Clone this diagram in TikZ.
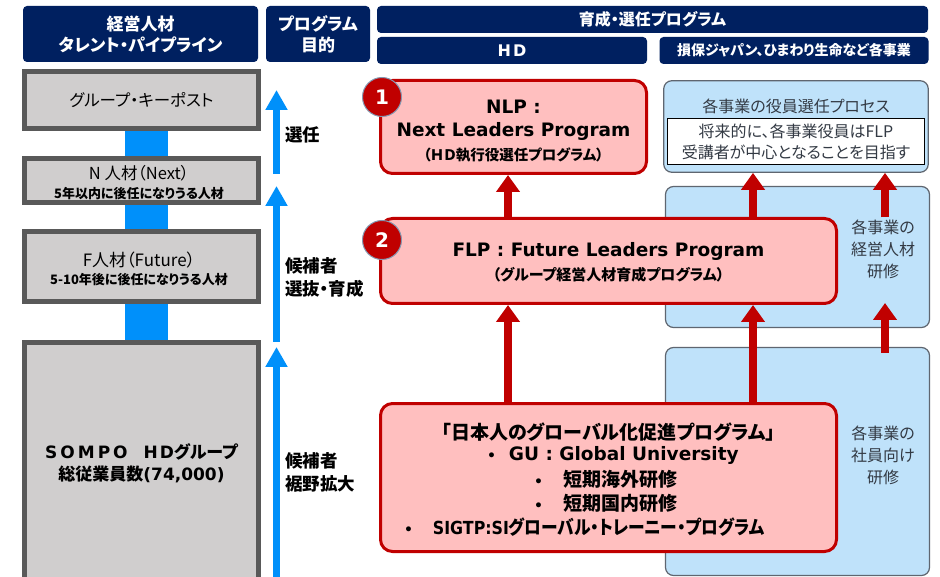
\documentclass[tikz,border=0pt]{standalone}
\usepackage{fontspec}
\setmainfont{Noto Sans CJK JP}[RawFeature=+palt]
\newfontfamily\lt{DejaVu Sans}
\usetikzlibrary{arrows.meta,calc}
\pgfdeclarelayer{bgw}
\pgfdeclarelayer{bgc}
\pgfsetlayers{bgw,bgc,main}
\definecolor{navy}{HTML}{002060}
\definecolor{greyfill}{HTML}{D0CECE}
\definecolor{greyline}{HTML}{595959}
\definecolor{bluec}{HTML}{0090FA}
\definecolor{redfill}{HTML}{FFBFBF}
\definecolor{redline}{HTML}{C00000}
\definecolor{lblue}{HTML}{BFE2FA}
\definecolor{lbline}{HTML}{5F6670}
\definecolor{circline}{HTML}{8497B0}
\definecolor{txtgrey}{HTML}{333A44}
\newcommand\fsz[2]{\fontsize{#1}{#2}\selectfont}
\begin{document}
\begin{tikzpicture}[x=1pt,y=-1pt,
 hdr/.style={fill=navy, rounded corners=4pt, text=white, inner sep=0pt, align=center},
 greybox/.style={draw=greyline, line width=5pt, fill=greyfill, inner sep=0pt, align=center},
 redbox/.style={draw=redline, line width=3pt, fill=redfill, rounded corners=12pt, inner sep=0pt},
 bluebox/.style={draw=lbline, line width=1.2pt, fill=lblue, rounded corners=8pt, inner sep=0pt},
 btext/.style={text=txtgrey, font=\fsz{16}{22}, align=center, inner sep=2pt},
 rtext/.style={font=\bfseries\fsz{19}{23.5}, inner sep=0pt, align=center},
 lbl/.style={font=\bfseries\fsz{17.5}{23}, align=left, anchor=west, inner sep=0pt},
 gtext/.style={align=center, inner sep=0pt},
 barrow/.style={draw=bluec, line width=7pt, -{Triangle[width=21pt,length=20pt]}},
 rarrow/.style={draw=redline, line width=8pt, -{Triangle[width=23pt,length=17pt]}},
 circ/.style={circle, fill=redline, draw=circline, line width=1pt, minimum size=39pt, inner sep=0pt, text=white, font=\lt\bfseries\fsz{20}{20}},
]
\useasboundingbox (0,0) rectangle (940,577);
\begin{pgfonlayer}{bgw}
\fill[white] (0,0) rectangle (940,577);
\end{pgfonlayer}

% headers
\node[hdr, minimum width=235pt, minimum height=56pt, font=\bfseries\fsz{17}{21}] (hA) at (140.5,34) {経営人材\\タレント・パイプライン};
\node[hdr, minimum width=104pt, minimum height=56pt, font=\bfseries\fsz{17}{21}] (hB) at (318,34) {プログラム\\目的};
\node[hdr, minimum width=551pt, minimum height=27pt, font=\bfseries\fsz{16}{20}] (hC) at (652.5,19.5) {育成・選任プログラム};
\node[hdr, minimum width=270pt, minimum height=27pt, font=\bfseries\fsz{16}{20}] (hD) at (512,50.5) {{\lt H\hspace{2pt}D}};
\node[hdr, minimum width=269pt, minimum height=27pt, font=\bfseries\fsz{14}{18}] (hE) at (794,50.5) {損保ジャパン、ひまわり生命など各事業};

% pipeline boxes
\node[greybox, minimum width=234pt, minimum height=57pt, font=\fsz{16.5}{20}] (kp) at (141.5,100) {グループ・キーポスト};
\node[greybox, minimum width=234pt, minimum height=44pt] (nn) at (141.5,180.5) {};
\node[gtext, font=\fsz{16.5}{19}] (nntxt) at (139,183) {N 人材（Next）\\{\bfseries\fsz{13}{19}5年以内に後任になりうる人材}};
\node[greybox, minimum width=234pt, minimum height=70pt] (ff) at (141.5,266.5) {};
\node[gtext, font=\fsz{17}{18}] (fftxt) at (139,269) {F人材（Future）\\{\bfseries\fsz{13}{18}5-10年後に後任になりうる人材}};
\node[greybox, minimum width=234pt, minimum height=257.5pt] (sp) at (141.5,471.25) {};
\node[gtext, font=\bfseries\fsz{17}{22}] (sptxt) at (141.5,463) {{\lt S\hspace{3pt}O\hspace{3pt}M\hspace{3pt}P\hspace{3pt}O\hspace{16pt}H\hspace{2pt}D}グループ\\総従業員数{\lt (74,000)}};

% blue connectors (behind the boxes)
\begin{pgfonlayer}{bgc}
\fill[bluec] ($(kp.south)+(-16.5,0)$) rectangle ($(nn.north)+(26.5,0)$);
\fill[bluec] ($(nn.south)+(-16.5,0)$) rectangle ($(ff.north)+(26.5,0)$);
\fill[bluec] ($(ff.south)+(-16.5,0)$) rectangle ($(sp.north)+(26.5,0)$);
\end{pgfonlayer}

% blue arrows
\coordinate (u1a) at (276.5,174); \coordinate (u1b) at (276.5,90);
\coordinate (u2a) at (276.5,342); \coordinate (u2b) at (276.5,186);
\coordinate (u3a) at (276.5,585); \coordinate (u3b) at (276.5,347);
\draw[barrow] (u1a) -- (u1b);
\draw[barrow] (u2a) -- (u2b);
\draw[barrow] (u3a) -- (u3b);

% labels
\node[lbl] (l1) at (285,135) {選任};
\node[lbl] (l2) at (285,277) {候補者\\選抜・育成};
\node[lbl] (l3) at (285,472) {候補者\\裾野拡大};

% blue boxes
\node[bluebox, minimum width=264.5pt, minimum height=91.5pt] (bt) at (796,126.5) {};
\node[btext] (bttl) at (796,106) {各事業の役員選任プロセス};
\node[draw=black, line width=0.8pt, fill=white, minimum width=257pt, minimum height=46pt, inner sep=0pt, text=txtgrey, font=\fsz{16}{21}, align=center] (btin) at (796,141.5) {将来的に、各事業役員はFLP\\受講者が中心となることを目指す};
\node[bluebox, minimum width=264pt, minimum height=141pt] (bm) at (797.5,257) {};
\node[btext] (bmtxt) at (883,249) {各事業の\\経営人材\\研修};
\node[bluebox, minimum width=264pt, minimum height=228pt] (bb) at (797.5,461.5) {};
\node[btext] (bbtxt) at (883,455) {各事業の\\社員向け\\研修};

% red boxes
\node[redbox, minimum width=266pt, minimum height=93pt] (nlp) at (513.5,127) {};
\node[rtext] (nlptxt) at (513.5,131) {{\lt\fsz{18.5}{22.5}NLP :}\\{\lt\fsz{18.5}{22.5}Next Leaders Program}\\{\fsz{14.5}{22.5}（ＨＤ執行役選任プログラム）}};
\node[redbox, minimum width=456pt, minimum height=85pt] (flp) at (608.5,261) {};
\node[rtext] (flptxt) at (608.5,262.5) {{\lt\fsz{18.5}{21}FLP : Future Leaders Program}\\{\fsz{15}{21}（グループ経営人材育成プログラム）}};
\node[redbox, minimum width=456pt, minimum height=148pt] (gu) at (608.5,477.5) {};
\node[rtext] (g1) at (608.5,432) {「日本人のグローバル化促進プログラム」};
\node[rtext, anchor=west] (g2) at (486.9,455.5) {{\lt\fsz{14}{14}•}\hspace{12.9pt}{\lt\fsz{18.5}{22}GU : Global University}};
\node[rtext, anchor=west] (g3) at (533.9,479.5) {{\lt\fsz{14}{14}•}\hspace{20.9pt}短期海外研修};
\node[rtext, anchor=west] (g4) at (533.9,503) {{\lt\fsz{14}{14}•}\hspace{20.9pt}短期国内研修};
\node[rtext, anchor=west] (g5) at (403.9,527) {{\lt\fsz{14}{14}•}\hspace{19.9pt}\scalebox{0.88}[1]{{\lt\fsz{18}{22}SIGTP:SI}グローバル・トレーニー・プログラム}};

% circles
\node[circ] (c1) at (382,97) {1};
\node[circ] (c2) at (382,240) {2};

% red arrows
\coordinate (xa) at (508,0); \coordinate (xb) at (753,0); \coordinate (xc) at (885,0);
\draw[rarrow] (xa |- flp.north) -- (xa |- nlp.south);
\draw[rarrow] (xa |- gu.north) -- (xa |- flp.south);
\draw[rarrow] (xb |- gu.north) -- (xb |- flp.south);
\draw[rarrow] (xb |- flp.north) -- (xb |- bt.south);
\draw[rarrow] (xc |- bmtxt.north) -- (xc |- bt.south);
\coordinate (a6b) at (885,353); \coordinate (a6t) at (885,303);
\draw[rarrow] (a6b) -- (a6t);
\end{tikzpicture}
\end{document}
